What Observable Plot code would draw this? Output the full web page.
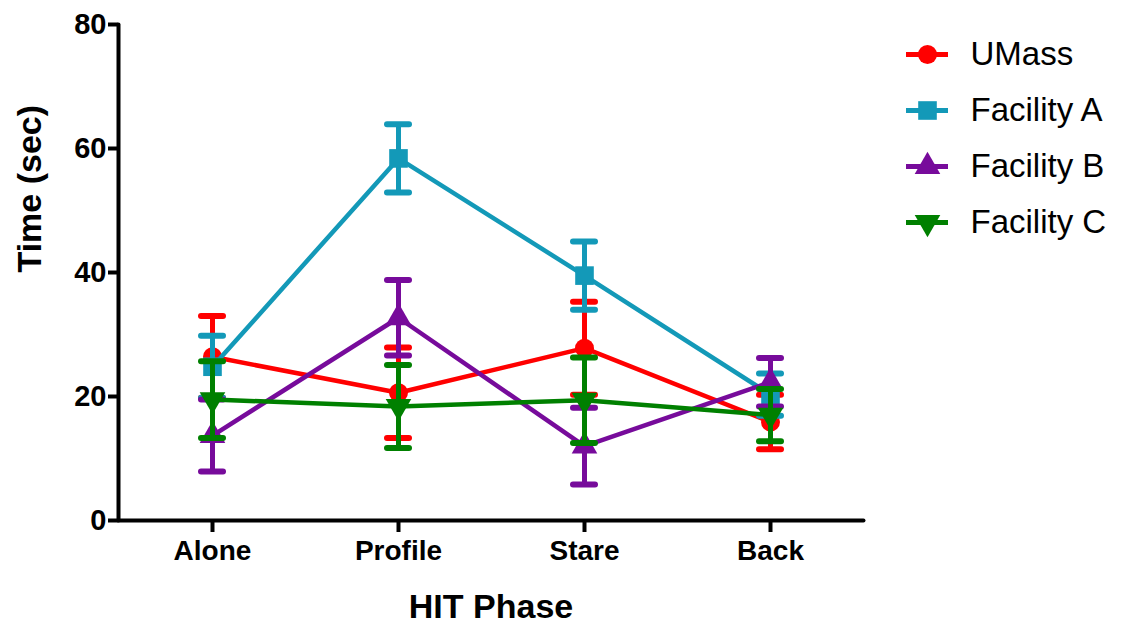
<!DOCTYPE html>
<html><head><meta charset="utf-8">
<script src="https://cdn.jsdelivr.net/npm/d3@7"></script>
<script src="https://cdn.jsdelivr.net/npm/@observablehq/plot@0.6"></script>
<style>
body{margin:0;background:#fff}
#wrap{position:relative;width:1122px;height:624px;overflow:hidden}
#legend{position:absolute;left:890px;top:20px}
</style>
</head><body><div id="wrap"><div id="main"></div><div id="legend"></div></div>
<script>
// Categories
const phases = ["Alone", "Profile", "Stare", "Back"];
const seriesNames = ["UMass", "Facility A", "Facility B", "Facility C"];
const yTicks = [0, 20, 40, 60, 80];

// Series values: mean and error (half-length of error bar), per phase
const umassMean = [26.4, 20.6, 27.8, 15.9];
const umassErr  = [6.6, 7.3, 7.5, 4.4];
const facAMean  = [24.8, 58.4, 39.5, 20.3];
const facAErr   = [5.0, 5.5, 5.5, 3.4];
const facBMean  = [13.7, 32.7, 12.0, 22.3];
const facBErr   = [5.8, 6.1, 6.2, 3.9];
const facCMean  = [19.5, 18.4, 19.4, 17.0];
const facCErr   = [6.2, 6.7, 6.9, 4.2];

// Styles
const colors  = ["#ff0000", "#1399b8", "#770b9b", "#008000"];
const symbols = ["circle", "square", "triangle", "triangle"];
const rotates = [0, 0, 0, 180];
const radii   = [9.5, 10.5, 9.5, 9.5];

const means = [umassMean, facAMean, facBMean, facCMean];
const errs  = [umassErr, facAErr, facBErr, facCErr];

const series = seriesNames.map((name, i) =>
  phases.map((p, j) => ({
    series: name, phase: p, mean: means[i][j],
    lo: means[i][j] - errs[i][j], hi: means[i][j] + errs[i][j]
  }))
);

const font = "'Liberation Sans', Arial, sans-serif";

const seriesMarks = series.flatMap((rows, i) => [
  Plot.ruleX(rows, {x: "phase", y1: "lo", y2: "hi", stroke: colors[i], strokeWidth: 5}),
  Plot.tickY(rows, {x: "phase", y: "hi", stroke: colors[i], strokeWidth: 6, strokeLinecap: "round", insetLeft: 82, insetRight: 82}),
  Plot.tickY(rows, {x: "phase", y: "lo", stroke: colors[i], strokeWidth: 6, strokeLinecap: "round", insetLeft: 82, insetRight: 82}),
  Plot.line(rows, {x: "phase", y: "mean", stroke: colors[i], strokeWidth: 4.5}),
  Plot.dot(rows, {x: "phase", y: "mean", symbol: symbols[i], fill: colors[i], r: radii[i], rotate: rotates[i]})
]);

const chart = Plot.plot({
  width: 1122, height: 624,
  marginLeft: 118, marginRight: 259, marginTop: 24, marginBottom: 104,
  style: {fontFamily: font, color: "#000", background: "#fff"},
  x: {type: "band", domain: phases, padding: 0},
  y: {domain: [0, 80]},
  marks: [
    ...seriesMarks,
    Plot.frame({anchor: "left", stroke: "#000", strokeWidth: 4, strokeLinecap: "round"}),
    Plot.frame({anchor: "bottom", stroke: "#000", strokeWidth: 4, strokeLinecap: "round"}),
    Plot.axisY({ticks: yTicks, tickSize: 10, tickPadding: 2, fontSize: 29, fontWeight: "bold", strokeWidth: 4, label: null}),
    Plot.axisX({tickSize: 12, tickPadding: 8, fontSize: 28, fontWeight: "bold", strokeWidth: 4, label: null}),
    Plot.text(["Time (sec)"], {text: d => d, frameAnchor: "left", dx: -88, rotate: -90, fontSize: 34, fontWeight: "bold"}),
    Plot.text(["HIT Phase"], {text: d => d, frameAnchor: "bottom", dy: 97, fontSize: 34, fontWeight: "bold"})
  ]
});
document.getElementById("main").appendChild(chart);

// Legend
const legendRows = seriesNames.map((name, i) => ({name, color: colors[i], symbol: symbols[i], rotate: rotates[i], r: radii[i]}));
const LX = {lineStart: 16, lineEnd: 58, mark: 37, text: 80};
const legend = Plot.plot({
  width: 232, height: 240,
  marginLeft: 0, marginRight: 0, marginTop: 0, marginBottom: 0,
  style: {fontFamily: font, background: "transparent", overflow: "visible"},
  x: {domain: [0, 232], range: [0, 232], axis: null},
  y: {type: "band", domain: seriesNames, range: [4.5, 230.5], padding: 0, axis: null},
  marks: legendRows.flatMap(d => [
    Plot.ruleY([d], {y: "name", x1: LX.lineStart, x2: LX.lineEnd, stroke: d.color, strokeWidth: 5}),
    Plot.dot([d], {y: "name", x: LX.mark, symbol: d.symbol, fill: d.color, r: d.r, rotate: d.rotate}),
    Plot.text([d], {y: "name", x: LX.text, text: "name", textAnchor: "start", fontSize: 33, fill: "#000"})
  ])
});
document.getElementById("legend").appendChild(legend);
</script>
</body></html>
